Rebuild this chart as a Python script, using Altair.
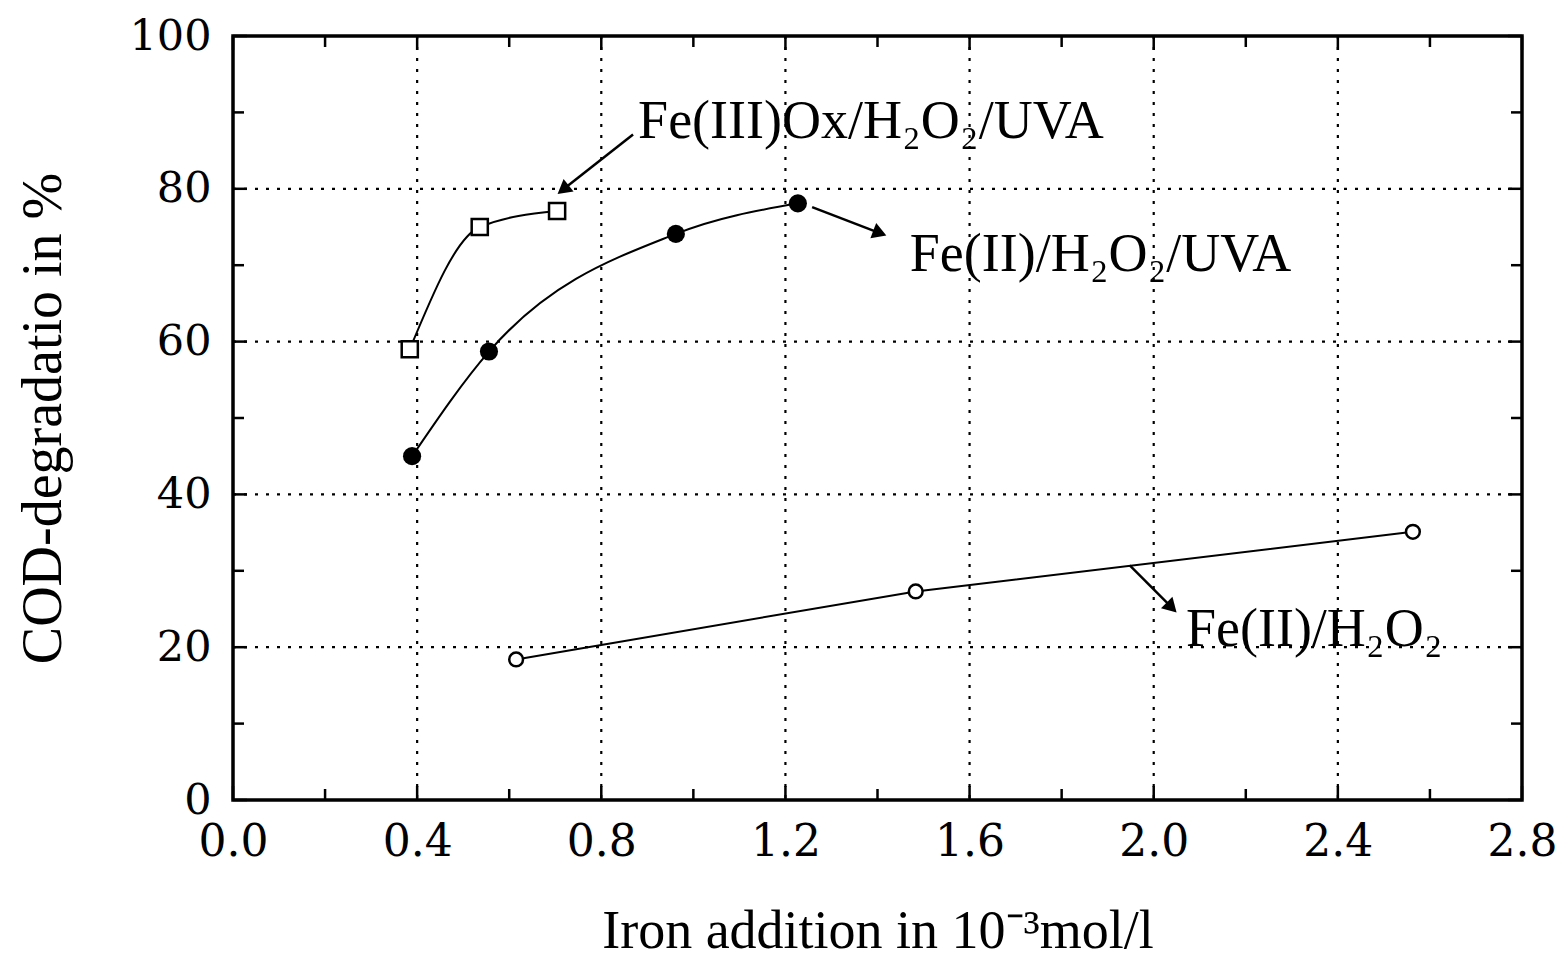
import altair as alt
import numpy as np
import pandas as pd

# ---- data ----
ox_x = [0.384, 0.536, 0.704]
ox_y = [59.0, 75.0, 77.1]
uva_x = [0.389, 0.556, 0.962, 1.227]
uva_y = [45.0, 58.7, 74.1, 78.1]
dark_x = [0.615, 1.483, 2.563]
dark_y = [18.4, 27.3, 35.1]

x_major = [0.0, 0.4, 0.8, 1.2, 1.6, 2.0, 2.4, 2.8]
x_minor = [0.2, 0.6, 1.0, 1.4, 1.8, 2.2, 2.6]
y_major = [0, 20, 40, 60, 80, 100]
y_minor = [10, 30, 50, 70, 90]

labels = ["Fe(III)Ox/H\u2082O\u2082/UVA", "Fe(II)/H\u2082O\u2082/UVA", "Fe(II)/H\u2082O\u2082"]
label_x = [0.880, 1.470, 2.070]
label_y = [86.7, 69.2, 20.1]
arrow_x0 = [0.869, 1.258, 1.948]
arrow_y0 = [87.1, 77.6, 30.7]
arrow_x1 = [0.717, 1.405, 2.039]
arrow_y1 = [79.9, 74.2, 25.2]

W, H = 1289, 764
XD, YD = [0, 2.8], [0, 100]
SERIF = "Liberation Serif"
NUMF = "DejaVu Serif"

xs = alt.Scale(domain=XD, nice=False, zero=False)
ys = alt.Scale(domain=YD, nice=False, zero=False)

# arrow head angles (pixel space, clockwise from up)
ang = []
for a, b, c, d in zip(arrow_x0, arrow_y0, arrow_x1, arrow_y1):
    dx = (c - a) / (XD[1] - XD[0]) * W
    dy = -(d - b) / (YD[1] - YD[0]) * H
    ang.append(float(np.degrees(np.arctan2(dx, -dy))) % 360)

ann = pd.DataFrame({"label": labels, "lx": label_x, "ly": label_y,
                    "x0": arrow_x0, "y0": arrow_y0, "x1": arrow_x1, "y1": arrow_y1,
                    "ang": ang})

df_ox = pd.DataFrame({"x": ox_x, "y": ox_y})
df_uva = pd.DataFrame({"x": uva_x, "y": uva_y})
df_dark = pd.DataFrame({"x": dark_x, "y": dark_y})

xmaj = pd.DataFrame({"x": x_major})
xmin = pd.DataFrame({"x": x_minor})
ymaj = pd.DataFrame({"y": y_major})
ymin = pd.DataFrame({"y": y_minor})
xgrid = pd.DataFrame({"x": x_major[1:-1]})
ygrid = pd.DataFrame({"y": y_major[1:-1]})

X = lambda f="x": alt.X(f"{f}:Q", scale=xs)
Y = lambda f="y": alt.Y(f"{f}:Q", scale=ys)

base_axes = alt.Chart(xmaj).mark_point(opacity=0).encode(
    x=alt.X("x:Q", scale=xs, title="Iron addition in 10\u207b\u00b3mol/l",
            axis=alt.Axis(values=x_major, format=".1f", tickSize=0, grid=False,
                          labelFont=NUMF, labelFontSize=44, labelPadding=20,
                          titleFont=SERIF, titleFontSize=54, titleFontWeight="normal",
                          titlePadding=40, domain=False, labelColor="black",
                          titleColor="black", labelFlush=False)),
    y=alt.Y("x:Q", scale=ys, title="COD-degradatio in %",
            axis=alt.Axis(values=y_major, format="d", tickSize=0, grid=False,
                          labelFont=NUMF, labelFontSize=43, labelPadding=22,
                          titleFont=SERIF, titleFontSize=56, titleFontWeight="normal",
                          titlePadding=56, domain=False, labelColor="black",
                          titleColor="black", labelFlush=False)),
)

grid_x = alt.Chart(xgrid).mark_rule(color="black", strokeWidth=2.2, strokeDash=[3, 8]).encode(
    x=X(), y=alt.value(0), y2=alt.value(H))
grid_y = alt.Chart(ygrid).mark_rule(color="black", strokeWidth=2.2, strokeDash=[3, 8]).encode(
    y=Y(), x=alt.value(0), x2=alt.value(W))

def xticks(d, L):
    return [
        alt.Chart(d).mark_rule(color="black", strokeWidth=2.5).encode(x=X(), y=alt.value(H - L), y2=alt.value(H)),
        alt.Chart(d).mark_rule(color="black", strokeWidth=2.5).encode(x=X(), y=alt.value(0), y2=alt.value(L)),
    ]

def yticks(d, L):
    return [
        alt.Chart(d).mark_rule(color="black", strokeWidth=2.5).encode(y=Y(), x=alt.value(0), x2=alt.value(L)),
        alt.Chart(d).mark_rule(color="black", strokeWidth=2.5).encode(y=Y(), x=alt.value(W - L), x2=alt.value(W)),
    ]

ticks = xticks(xmaj, 14) + xticks(xmin, 11) + yticks(ymaj, 14) + yticks(ymin, 11)

frame = alt.Chart(pd.DataFrame({"a": [0]})).mark_rect(
    fill=None, stroke="black", strokeWidth=3.5).encode(
    x=alt.value(0), x2=alt.value(W), y=alt.value(0), y2=alt.value(H))

line_ox = alt.Chart(df_ox).mark_line(color="black", strokeWidth=2, interpolate="monotone").encode(x=X(), y=Y())
line_uva = alt.Chart(df_uva).mark_line(color="black", strokeWidth=2, interpolate="monotone").encode(x=X(), y=Y())
line_dark = alt.Chart(df_dark).mark_line(color="black", strokeWidth=2).encode(x=X(), y=Y())

pts_ox = alt.Chart(df_ox).mark_point(shape="square", filled=True, fill="white", stroke="black",
                                     strokeWidth=2.5, size=260, opacity=1).encode(x=X(), y=Y())
pts_uva = alt.Chart(df_uva).mark_point(shape="circle", filled=True, color="black",
                                       size=330, opacity=1).encode(x=X(), y=Y())
pts_dark = alt.Chart(df_dark).mark_point(shape="circle", filled=True, fill="white", stroke="black",
                                         strokeWidth=2.5, size=190, opacity=1).encode(x=X(), y=Y())

arrows = alt.Chart(ann).mark_rule(color="black", strokeWidth=2.5).encode(
    x=X("x0"), y=Y("y0"), x2="x1:Q", y2="y1:Q")
heads = alt.Chart(ann).mark_point(shape="triangle-up", filled=True, color="black",
                                  size=260, opacity=1).encode(
    x=X("x1"), y=Y("y1"), angle=alt.Angle("ang:Q", scale=None))
texts = alt.Chart(ann).mark_text(font=SERIF, fontSize=54, align="left", baseline="alphabetic",
                                 color="black").encode(
    x=X("lx"), y=Y("ly"), text="label:N")

chart = alt.layer(
    base_axes, grid_x, grid_y, *ticks,
    line_ox, line_uva, line_dark, arrows, heads,
    pts_ox, pts_uva, pts_dark, texts, frame,
).properties(
    width=W, height=H,
    autosize=alt.AutoSizeParams(type="none"),
    padding={"left": 225, "top": 28, "right": 38, "bottom": 170},
).configure_view(stroke=None).configure(background="white")

chart.save("out.html", embed_options={"renderer": "svg", "actions": False})
